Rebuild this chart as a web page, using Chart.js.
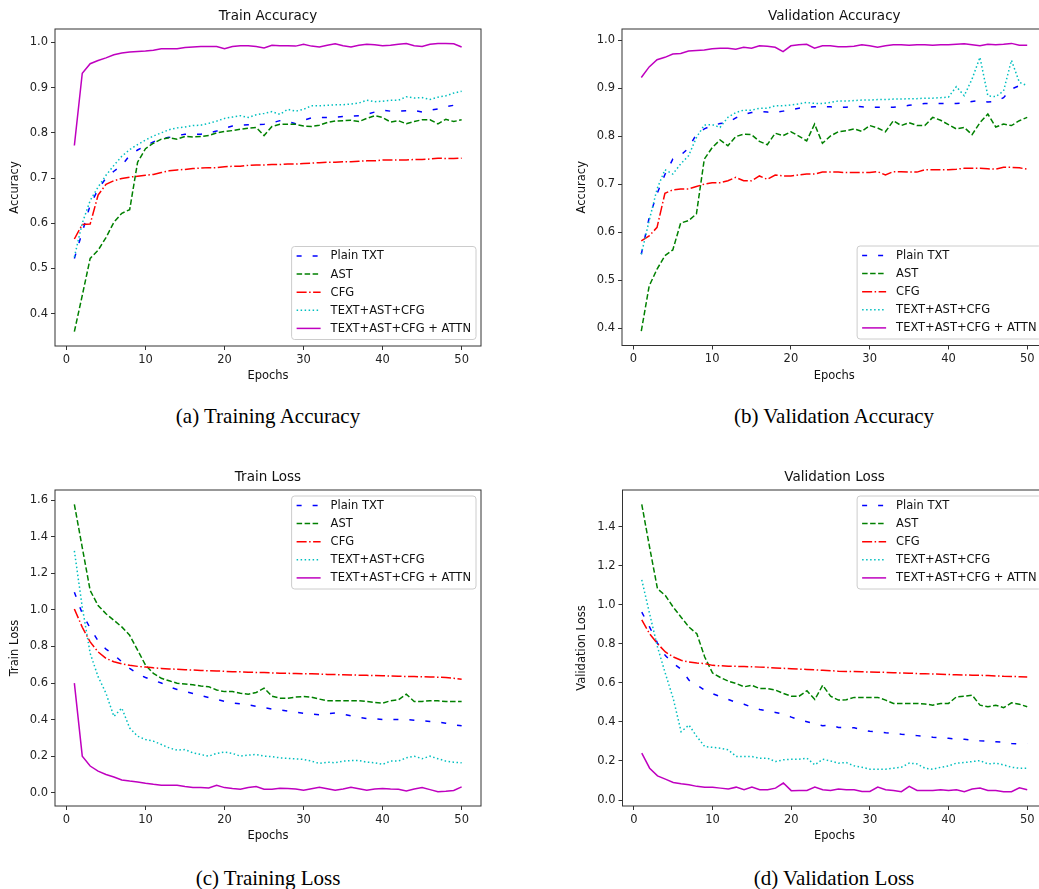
<!DOCTYPE html>
<html>
<head>
<meta charset="utf-8">
<script src="https://cdn.jsdelivr.net/npm/chart.js@4.4.0/dist/chart.umd.min.js"></script>
<style>
  html, body { margin: 0; padding: 0; background: #fff; overflow: hidden; }
  body { width: 1039px; height: 889px; position: relative; }
  canvas { position: absolute; }
  .cap {
    position: absolute;
    font-family: "Liberation Serif", "Times New Roman", serif;
    font-size: 21px;
    line-height: 21px;
    text-align: center;
    color: #000;
    white-space: pre;
  }
</style>
</head>
<body>
<canvas id="chartA" width="490" height="395" style="left:0px;top:0px"></canvas>
<canvas id="chartB" width="495" height="395" style="left:560px;top:0px"></canvas>
<canvas id="chartC" width="490" height="395" style="left:0px;top:460px"></canvas>
<canvas id="chartD" width="495" height="395" style="left:560px;top:460px"></canvas>
<div class="cap" style="left:55px;width:426px;top:406px">(a) Training Accuracy</div>
<div class="cap" style="left:622px;width:424px;top:406px">(b) Validation Accuracy</div>
<div class="cap" style="left:55px;width:426px;top:868px">(c) Training Loss</div>
<div class="cap" style="left:622px;width:424px;top:868px">(d) Validation Loss</div>
<script>
// ---- data ----
const epochs = [1,2,3,4,5,6,7,8,9,10,11,12,13,14,15,16,17,18,19,20,21,22,23,24,25,
  26,27,28,29,30,31,32,33,34,35,36,37,38,39,40,41,42,43,44,45,46,47,48,49,50];
const seriesNames = ["Plain TXT", "AST", "CFG", "TEXT+AST+CFG", "TEXT+AST+CFG + ATTN"];
const xTicks = [0, 10, 20, 30, 40, 50];

// Train Accuracy
const trainAccPlain = [0.522,0.58,0.64,0.675,0.70,0.715,0.728,0.75,0.762,0.771,0.78,0.787,0.79,0.794,0.797,0.797,0.797,0.80,0.804,0.81,0.815,0.817,0.818,0.818,0.819,0.822,0.827,0.825,0.82,0.828,0.833,0.834,0.834,0.835,0.836,0.837,0.838,0.841,0.846,0.85,0.848,0.848,0.849,0.85,0.846,0.85,0.853,0.858,0.861,0.86];
const trainAccAst = [0.36,0.44,0.522,0.54,0.568,0.602,0.622,0.63,0.735,0.765,0.777,0.786,0.789,0.786,0.792,0.791,0.792,0.794,0.80,0.803,0.805,0.808,0.81,0.812,0.794,0.814,0.819,0.819,0.819,0.815,0.814,0.817,0.823,0.826,0.827,0.828,0.825,0.832,0.838,0.834,0.824,0.827,0.82,0.825,0.829,0.829,0.82,0.83,0.825,0.829];
const trainAccCfg = [0.565,0.597,0.598,0.662,0.686,0.694,0.699,0.702,0.704,0.706,0.708,0.712,0.716,0.718,0.719,0.721,0.722,0.723,0.723,0.725,0.726,0.726,0.728,0.729,0.729,0.730,0.730,0.731,0.731,0.732,0.733,0.734,0.735,0.735,0.736,0.736,0.737,0.738,0.738,0.740,0.740,0.740,0.740,0.741,0.741,0.742,0.744,0.743,0.743,0.744];
const trainAccAll = [0.525,0.60,0.65,0.68,0.706,0.728,0.748,0.763,0.774,0.784,0.793,0.80,0.807,0.811,0.813,0.816,0.817,0.821,0.826,0.832,0.835,0.838,0.834,0.840,0.843,0.847,0.841,0.852,0.848,0.852,0.860,0.860,0.861,0.862,0.862,0.864,0.866,0.872,0.869,0.870,0.872,0.872,0.880,0.877,0.878,0.874,0.879,0.882,0.888,0.892];
const trainAccAttn = [0.772,0.932,0.953,0.960,0.966,0.973,0.977,0.979,0.980,0.981,0.983,0.986,0.986,0.986,0.989,0.990,0.991,0.991,0.991,0.986,0.991,0.993,0.993,0.991,0.988,0.994,0.993,0.993,0.992,0.996,0.992,0.990,0.994,0.997,0.993,0.990,0.994,0.996,0.995,0.993,0.994,0.996,0.998,0.993,0.991,0.996,0.998,0.998,0.997,0.990];
const trainAccTicks = [0.4, 0.5, 0.6, 0.7, 0.8, 0.9, 1.0];

// Validation Accuracy
const valAccPlain = [0.554,0.63,0.68,0.72,0.752,0.76,0.775,0.804,0.815,0.822,0.826,0.828,0.838,0.845,0.849,0.851,0.85,0.849,0.852,0.855,0.858,0.86,0.861,0.861,0.861,0.86,0.86,0.862,0.861,0.86,0.86,0.86,0.86,0.862,0.864,0.866,0.868,0.868,0.868,0.868,0.868,0.869,0.872,0.874,0.871,0.872,0.88,0.898,0.905,0.905];
const valAccAst = [0.394,0.488,0.523,0.551,0.563,0.619,0.624,0.638,0.752,0.776,0.792,0.78,0.799,0.804,0.803,0.789,0.782,0.806,0.801,0.809,0.80,0.79,0.825,0.785,0.80,0.809,0.811,0.815,0.81,0.822,0.817,0.809,0.832,0.822,0.828,0.822,0.822,0.839,0.833,0.824,0.815,0.818,0.803,0.828,0.846,0.819,0.825,0.822,0.832,0.839];
const valAccCfg = [0.582,0.592,0.61,0.681,0.688,0.69,0.69,0.695,0.70,0.703,0.703,0.707,0.714,0.707,0.707,0.717,0.71,0.719,0.717,0.717,0.719,0.721,0.721,0.725,0.725,0.725,0.724,0.724,0.724,0.724,0.726,0.719,0.726,0.726,0.725,0.725,0.73,0.73,0.73,0.73,0.731,0.733,0.733,0.733,0.732,0.731,0.735,0.735,0.734,0.731];
const valAccAll = [0.554,0.624,0.69,0.73,0.721,0.742,0.759,0.797,0.823,0.824,0.818,0.839,0.849,0.854,0.854,0.858,0.858,0.863,0.863,0.865,0.867,0.870,0.868,0.868,0.870,0.873,0.873,0.874,0.875,0.875,0.876,0.876,0.877,0.877,0.878,0.878,0.879,0.879,0.880,0.881,0.903,0.884,0.919,0.964,0.884,0.882,0.894,0.958,0.912,0.905];
const valAccAttn = [0.922,0.944,0.959,0.964,0.971,0.972,0.977,0.978,0.979,0.982,0.983,0.983,0.981,0.985,0.983,0.988,0.987,0.985,0.976,0.988,0.990,0.991,0.983,0.988,0.988,0.986,0.986,0.987,0.990,0.988,0.985,0.988,0.990,0.990,0.989,0.990,0.990,0.989,0.990,0.990,0.991,0.992,0.990,0.988,0.991,0.990,0.991,0.993,0.989,0.989];
const valAccTicks = [0.4, 0.5, 0.6, 0.7, 0.8, 0.9, 1.0];

// Train Loss
const trainLossPlain = [1.097,0.98,0.9,0.83,0.785,0.755,0.716,0.68,0.65,0.63,0.615,0.6,0.578,0.565,0.553,0.543,0.532,0.52,0.51,0.5,0.491,0.487,0.48,0.473,0.465,0.458,0.452,0.447,0.44,0.435,0.43,0.427,0.432,0.436,0.43,0.42,0.412,0.406,0.404,0.4,0.4,0.4,0.4,0.397,0.393,0.39,0.387,0.38,0.372,0.366];
const trainLossAst = [1.577,1.341,1.106,1.024,0.979,0.943,0.907,0.861,0.78,0.698,0.653,0.626,0.612,0.599,0.595,0.59,0.584,0.58,0.562,0.553,0.553,0.544,0.539,0.548,0.572,0.528,0.517,0.517,0.523,0.526,0.523,0.512,0.503,0.503,0.503,0.503,0.503,0.499,0.494,0.49,0.503,0.508,0.539,0.499,0.499,0.503,0.503,0.499,0.499,0.499];
const trainLossCfg = [1.005,0.905,0.825,0.77,0.735,0.716,0.705,0.697,0.691,0.687,0.683,0.680,0.677,0.675,0.673,0.671,0.669,0.667,0.666,0.664,0.662,0.661,0.659,0.658,0.657,0.655,0.654,0.653,0.652,0.651,0.650,0.649,0.647,0.646,0.645,0.644,0.643,0.642,0.641,0.640,0.638,0.637,0.636,0.635,0.634,0.633,0.632,0.630,0.626,0.621];
const trainLossAll = [1.323,1.015,0.762,0.635,0.544,0.417,0.463,0.354,0.309,0.291,0.282,0.264,0.245,0.233,0.236,0.218,0.209,0.2,0.215,0.222,0.215,0.2,0.206,0.209,0.2,0.197,0.191,0.188,0.185,0.182,0.173,0.16,0.167,0.164,0.173,0.176,0.176,0.167,0.164,0.155,0.173,0.173,0.191,0.2,0.186,0.2,0.186,0.173,0.167,0.164];
const trainLossAttn = [0.599,0.2,0.146,0.118,0.1,0.086,0.07,0.064,0.059,0.052,0.046,0.041,0.041,0.041,0.034,0.028,0.028,0.026,0.041,0.028,0.023,0.019,0.028,0.034,0.019,0.019,0.024,0.023,0.02,0.014,0.022,0.03,0.022,0.014,0.02,0.03,0.022,0.014,0.02,0.023,0.02,0.019,0.01,0.02,0.028,0.017,0.006,0.008,0.012,0.032];
const trainLossTicks = [0.0, 0.2, 0.4, 0.6, 0.8, 1.0, 1.2, 1.4, 1.6];

// Validation Loss
const valLossPlain = [0.963,0.886,0.804,0.74,0.70,0.67,0.614,0.59,0.563,0.545,0.53,0.515,0.5,0.491,0.475,0.464,0.455,0.449,0.44,0.425,0.41,0.401,0.39,0.381,0.384,0.372,0.372,0.37,0.36,0.352,0.35,0.345,0.342,0.337,0.333,0.33,0.327,0.322,0.318,0.316,0.313,0.311,0.308,0.304,0.302,0.299,0.296,0.29,0.287,0.29];
const valLossAst = [1.515,1.294,1.082,1.048,0.988,0.937,0.886,0.852,0.733,0.651,0.628,0.609,0.597,0.58,0.588,0.571,0.571,0.563,0.546,0.532,0.532,0.56,0.515,0.588,0.532,0.512,0.514,0.526,0.526,0.526,0.526,0.512,0.495,0.495,0.495,0.495,0.492,0.486,0.495,0.495,0.529,0.532,0.537,0.486,0.478,0.486,0.473,0.498,0.491,0.478];
const valLossCfg = [0.923,0.852,0.801,0.759,0.733,0.716,0.707,0.702,0.699,0.69,0.688,0.686,0.685,0.684,0.683,0.681,0.679,0.677,0.675,0.673,0.671,0.669,0.667,0.665,0.663,0.66,0.659,0.658,0.657,0.656,0.655,0.654,0.652,0.651,0.65,0.648,0.647,0.646,0.645,0.643,0.642,0.641,0.64,0.639,0.638,0.636,0.634,0.633,0.632,0.631];
const valLossAll = [1.128,0.954,0.784,0.648,0.52,0.35,0.384,0.325,0.274,0.27,0.265,0.257,0.223,0.223,0.223,0.214,0.214,0.197,0.206,0.209,0.209,0.214,0.18,0.209,0.2,0.189,0.192,0.175,0.168,0.158,0.158,0.158,0.163,0.168,0.189,0.185,0.163,0.158,0.168,0.175,0.189,0.192,0.197,0.202,0.185,0.189,0.18,0.168,0.163,0.163];
const valLossAttn = [0.24,0.163,0.124,0.107,0.09,0.083,0.078,0.07,0.066,0.066,0.061,0.056,0.066,0.053,0.066,0.053,0.053,0.061,0.087,0.048,0.049,0.049,0.066,0.053,0.049,0.056,0.053,0.053,0.044,0.044,0.066,0.053,0.049,0.043,0.07,0.049,0.049,0.049,0.053,0.049,0.053,0.043,0.056,0.061,0.049,0.049,0.043,0.043,0.063,0.053];
const valLossTicks = [0.0, 0.2, 0.4, 0.6, 0.8, 1.0, 1.2, 1.4];

// ---- styles ----
const lineStyles = [
  { color: "#0000ff", dash: [5, 11] },
  { color: "#008000", dash: [5.5, 2.5] },
  { color: "#ff0000", dash: [10, 2.5, 1.5, 2.5] },
  { color: "#00bfbf", dash: [1.5, 2.5] },
  { color: "#bf00bf", dash: [] },
];
const FONT = "'DejaVu Sans', sans-serif";
const Y_AXIS_W = 55, X_AXIS_H = 40;

Chart.defaults.font.family = FONT;
Chart.defaults.font.size = 11.5;
Chart.defaults.color = "#222";
Chart.defaults.animation = false;

// matplotlib style: spines, titles, legend box
const panelDecor = {
  id: "panelDecor",
  afterDatasetsDraw(chart, args, opts) {
    const ctx = chart.ctx, a = chart.chartArea;
    ctx.save();
    ctx.strokeStyle = "#333";
    ctx.lineWidth = 1;
    ctx.setLineDash([]);
    ctx.strokeRect(a.left, a.top, a.right - a.left, a.bottom - a.top);

    // legend
    ctx.font = "11.5px " + FONT;
    let maxW = 0;
    seriesNames.forEach(n => { maxW = Math.max(maxW, ctx.measureText(n).width); });
    const bw = 39 + maxW + 5, bh = 93;
    const bx = a.right - 5 - bw;
    const by = opts.legend === "lower" ? a.bottom - 6.5 - bh : a.top + 6;
    ctx.beginPath();
    ctx.roundRect(bx, by, bw, bh, 3);
    ctx.fillStyle = "rgba(255,255,255,0.8)";
    ctx.fill();
    ctx.strokeStyle = "#cccccc";
    ctx.stroke();
    ctx.textBaseline = "middle";
    ctx.textAlign = "left";
    seriesNames.forEach((n, i) => {
      const cy = by + 9.5 + i * 18.1;
      ctx.beginPath();
      ctx.setLineDash(lineStyles[i].dash);
      ctx.strokeStyle = lineStyles[i].color;
      ctx.lineWidth = 1.5;
      ctx.moveTo(bx + 5, cy);
      ctx.lineTo(bx + 29, cy);
      ctx.stroke();
      ctx.fillStyle = "#111";
      ctx.fillText(n, bx + 39, cy + 0.5);
    });
    ctx.restore();
  },
  afterDraw(chart, args, opts) {
    const ctx = chart.ctx, a = chart.chartArea;
    const cx = (a.left + a.right) / 2, cy = (a.top + a.bottom) / 2;
    ctx.save();
    ctx.fillStyle = "#111";
    ctx.textAlign = "center";
    ctx.textBaseline = "middle";
    ctx.font = "13.5px " + FONT;
    ctx.fillText(opts.title, cx, a.top - 13);
    ctx.font = "11.5px " + FONT;
    ctx.fillText("Epochs", cx, a.bottom + 30.5);
    ctx.translate(a.left - 40, cy);
    ctx.rotate(-Math.PI / 2);
    ctx.fillText(opts.yTitle, 0, 0);
    ctx.restore();
  }
};

function dataRange(list) {
  let lo = Infinity, hi = -Infinity;
  list.forEach(arr => arr.forEach(v => { lo = Math.min(lo, v); hi = Math.max(hi, v); }));
  const pad = (hi - lo) * 0.05;
  return [lo - pad, hi + pad];
}

function makePanel(id, box, title, yTitle, series, yTicks, legend) {
  const canvas = document.getElementById(id);
  const cLeft = parseFloat(canvas.style.left), cTop = parseFloat(canvas.style.top);
  const [yMin, yMax] = dataRange(series);
  const xSpan = epochs[epochs.length - 1] - epochs[0];

  new Chart(canvas.getContext("2d"), {
    type: "line",
    data: {
      datasets: series.map((vals, i) => ({
        label: seriesNames[i],
        data: vals.map((v, k) => ({ x: epochs[k], y: v })),
        borderColor: lineStyles[i].color,
        borderDash: lineStyles[i].dash,
        borderWidth: 1.5,
        pointRadius: 0,
        fill: false,
        tension: 0,
        order: series.length - 1 - i,
      })),
    },
    options: {
      responsive: false,
      events: [],
      layout: {
        autoPadding: false,
        padding: {
          left: box.l - cLeft - Y_AXIS_W,
          right: cLeft + canvas.width - box.r,
          top: box.t - cTop,
          bottom: cTop + canvas.height - box.b - X_AXIS_H,
        },
      },
      scales: {
        x: {
          type: "linear",
          min: epochs[0] - 0.05 * xSpan,
          max: epochs[epochs.length - 1] + 0.05 * xSpan,
          afterBuildTicks: s => { s.ticks = xTicks.map(v => ({ value: v })); },
          afterFit: s => { s.height = X_AXIS_H; },
          ticks: { padding: 3, maxRotation: 0, autoSkip: false, callback: v => String(v) },
          grid: { display: true, drawOnChartArea: false, drawTicks: true, tickLength: 4, tickColor: "#333", lineWidth: 1 },
          border: { display: false },
        },
        y: {
          type: "linear",
          min: yMin,
          max: yMax,
          afterBuildTicks: s => { s.ticks = yTicks.map(v => ({ value: v })); },
          afterFit: s => { s.width = Y_AXIS_W; },
          ticks: { padding: 3, autoSkip: false, callback: v => v.toFixed(1) },
          grid: { display: true, drawOnChartArea: false, drawTicks: true, tickLength: 4, tickColor: "#333", lineWidth: 1 },
          border: { display: false },
        },
      },
      plugins: {
        legend: { display: false },
        tooltip: { enabled: false },
        title: { display: false },
        panelDecor: { title, yTitle, legend },
      },
    },
    plugins: [panelDecor],
  });
}

makePanel("chartA", { l: 55, r: 481, t: 29, b: 346 }, "Train Accuracy", "Accuracy",
  [trainAccPlain, trainAccAst, trainAccCfg, trainAccAll, trainAccAttn], trainAccTicks, "lower");
makePanel("chartB", { l: 622, r: 1046.5, t: 29, b: 345.5 }, "Validation Accuracy", "Accuracy",
  [valAccPlain, valAccAst, valAccCfg, valAccAll, valAccAttn], valAccTicks, "lower");
makePanel("chartC", { l: 55, r: 481, t: 490, b: 806 }, "Train Loss", "Train Loss",
  [trainLossPlain, trainLossAst, trainLossCfg, trainLossAll, trainLossAttn], trainLossTicks, "upper");
makePanel("chartD", { l: 622.5, r: 1046.5, t: 490, b: 806 }, "Validation Loss", "Validation Loss",
  [valLossPlain, valLossAst, valLossCfg, valLossAll, valLossAttn], valLossTicks, "upper");
</script>
</body>
</html>
